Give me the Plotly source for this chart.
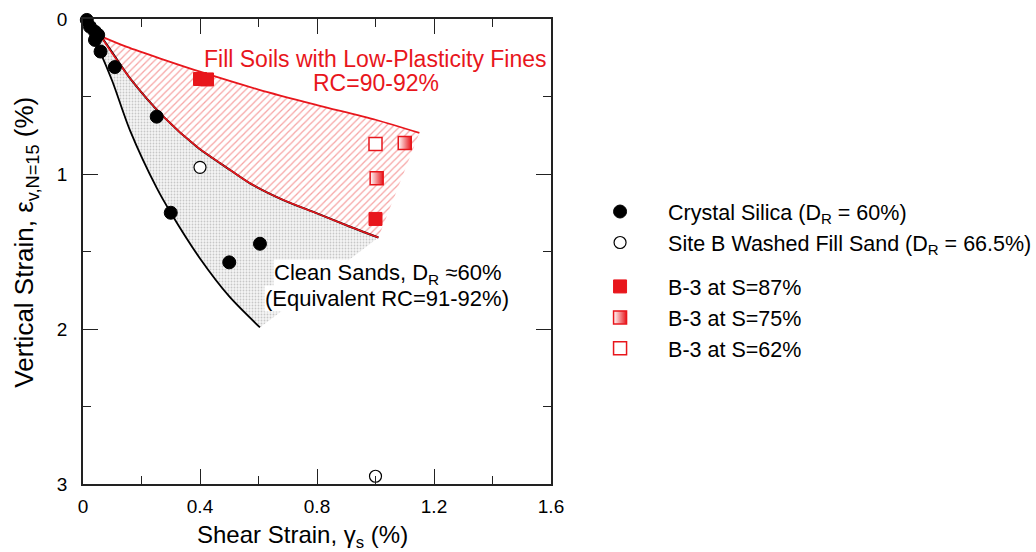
import plotly.graph_objects as go

# Boundary curves (shear strain %, vertical strain %)
sand_lower_x = [0.0, 0.03, 0.058, 0.10, 0.161, 0.252, 0.30, 0.40, 0.50, 0.605]
sand_lower_y = [0.0, 0.10, 0.21, 0.40, 0.72, 1.09, 1.25, 1.545, 1.79, 1.99]

middle_x = [0.0, 0.06, 0.161, 0.275, 0.389, 0.503, 0.571, 0.685, 0.80, 0.913, 1.01]
middle_y = [0.0, 0.11, 0.383, 0.63, 0.824, 0.974, 1.06, 1.168, 1.254, 1.34, 1.41]

fill_upper_x = [0.06, 0.15, 0.28, 0.40, 0.60, 0.80, 1.00, 1.15]
fill_upper_y = [0.11, 0.18, 0.265, 0.34, 0.455, 0.555, 0.65, 0.735]

# Test data
silica_x = [0.013, 0.024, 0.041, 0.052, 0.041, 0.06, 0.109, 0.252, 0.30, 0.605, 0.50]
silica_y = [0.006, 0.05, 0.082, 0.103, 0.135, 0.21, 0.31, 0.63, 1.25, 1.45, 1.57]

siteb_x = [0.40, 1.00]
siteb_y = [0.957, 2.95]

s87_x = [0.40, 0.424, 1.00]
s87_y = [0.387, 0.39, 1.29]

s75_x = [1.004, 1.10]
s75_y = [1.028, 0.80]

s62_x = [1.00]
s62_y = [0.806]

RED = "#e8161c"
FONT = "Liberation Sans, Arial, sans-serif"

fig = go.Figure()

# Clean sands band (stippled)
sand_poly_x = sand_lower_x + middle_x[::-1]
sand_poly_y = sand_lower_y + middle_y[::-1]
fig.add_trace(go.Scatter(
    x=sand_poly_x, y=sand_poly_y, mode="lines", fill="toself",
    line=dict(width=0), fillcolor="rgba(255,255,255,0)",
    fillpattern=dict(shape=".", fgcolor="#9a9a9a", bgcolor="#f5f5f5", size=3, solidity=0.3),
    showlegend=False, hoverinfo="skip"))

# Fill soils band (hatched)
red_poly_x = fill_upper_x + middle_x[::-1][:-1]
red_poly_y = fill_upper_y + middle_y[::-1][:-1]
fig.add_trace(go.Scatter(
    x=red_poly_x, y=red_poly_y, mode="lines", fill="toself",
    line=dict(width=0), fillcolor="rgba(255,255,255,0)",
    fillpattern=dict(shape="/", fgcolor="#ee4a4a", bgcolor="white", size=5, solidity=0.25),
    showlegend=False, hoverinfo="skip"))

# Clean sand boundaries
fig.add_trace(go.Scatter(x=sand_lower_x, y=sand_lower_y, mode="lines",
                         line=dict(color="black", width=1.8, shape="spline", smoothing=0.8),
                         showlegend=False, hoverinfo="skip"))
fig.add_trace(go.Scatter(x=middle_x, y=middle_y, mode="lines",
                         line=dict(color="black", width=2.0, shape="spline", smoothing=0.8),
                         showlegend=False, hoverinfo="skip"))
# Fill soil boundaries
fig.add_trace(go.Scatter(x=middle_x[1:], y=middle_y[1:], mode="lines",
                         line=dict(color=RED, width=1.6, shape="spline", smoothing=0.8),
                         showlegend=False, hoverinfo="skip"))
fig.add_trace(go.Scatter(x=fill_upper_x, y=fill_upper_y, mode="lines",
                         line=dict(color=RED, width=1.8, shape="spline", smoothing=0.8),
                         showlegend=False, hoverinfo="skip"))

# Data points: sands in one legend group, B-3 specimens in another
fig.add_trace(go.Scatter(
    x=silica_x, y=silica_y, mode="markers", cliponaxis=False,
    name="Crystal Silica (D<sub>R</sub> = 60%)", legendgroup="sands",
    marker=dict(symbol="circle", size=13, color="black", line=dict(color="black", width=1))))
fig.add_trace(go.Scatter(
    x=siteb_x, y=siteb_y, mode="markers", cliponaxis=False,
    name="Site B Washed Fill Sand (D<sub>R</sub> = 66.5%)", legendgroup="sands",
    marker=dict(symbol="circle", size=12, color="white", line=dict(color="black", width=1.2))))
fig.add_trace(go.Scatter(
    x=s87_x, y=s87_y, mode="markers", cliponaxis=False,
    name="B-3 at S=87%", legendgroup="b3",
    marker=dict(symbol="square", size=13, color=RED, line=dict(color=RED, width=1))))
fig.add_trace(go.Scatter(
    x=s75_x, y=s75_y, mode="markers", cliponaxis=False,
    name="B-3 at S=75%", legendgroup="b3",
    marker=dict(symbol="square", size=13, color="white",
                gradient=dict(type="horizontal", color=RED),
                line=dict(color=RED, width=1.5))))
fig.add_trace(go.Scatter(
    x=s62_x, y=s62_y, mode="markers", cliponaxis=False,
    name="B-3 at S=62%", legendgroup="b3",
    marker=dict(symbol="square", size=13, color="white", line=dict(color=RED, width=1.5))))

# Region labels
fig.add_annotation(x=1.0, y=0.258, text="Fill Soils with Low-Plasticity Fines", showarrow=False,
                   font=dict(family=FONT, size=23, color=RED))
fig.add_annotation(x=1.0, y=0.415, text="RC=90-92%", showarrow=False,
                   font=dict(family=FONT, size=23, color=RED))
fig.add_annotation(x=1.04, y=1.645, text="Clean Sands, D<sub>R</sub> ≈60%", showarrow=False,
                   bgcolor="white", borderpad=0,
                   font=dict(family=FONT, size=22, color="black"))
fig.add_annotation(x=1.038, y=1.80, text="(Equivalent RC=91-92%)", showarrow=False,
                   bgcolor="white", borderpad=0,
                   font=dict(family=FONT, size=22, color="black"))

# Axis titles
fig.add_annotation(xref="paper", yref="paper", x=0.468, y=-0.112, yanchor="middle",
                   text="Shear Strain, γ<sub>s</sub> (%)", showarrow=False,
                   font=dict(family=FONT, size=24, color="black"))
fig.add_annotation(xref="paper", yref="paper", x=-0.123, y=0.52, xanchor="center",
                   text="Vertical Strain, ε<sub>v,N=15</sub> (%)", showarrow=False, textangle=-90,
                   font=dict(family=FONT, size=26, color="black"))

axis_common = dict(
    showgrid=False, zeroline=False, showline=True, linecolor="#222", linewidth=1.5,
    mirror="ticks", ticks="inside", ticklen=15, tickwidth=1.3, tickcolor="#222",
    tickfont=dict(family=FONT, size=19, color="black"),
)
fig.update_xaxes(range=[0, 1.6], tick0=0, dtick=0.4, ticklabelstandoff=4,
                 minor=dict(dtick=0.2, ticks="inside", ticklen=8, tickwidth=1.3, tickcolor="#222"),
                 **axis_common)
fig.update_yaxes(range=[3, 0], tick0=0, dtick=1, ticklabelstandoff=10,
                 minor=dict(dtick=0.5, ticks="inside", ticklen=8, tickwidth=1.3, tickcolor="#222"),
                 **axis_common)

fig.update_layout(
    width=1036, height=552,
    margin=dict(l=83, r=485, t=19, b=68, autoexpand=False),
    paper_bgcolor="white", plot_bgcolor="white",
    font=dict(family=FONT, color="black"),
    legend=dict(x=1.045, y=0.63, xanchor="left", yanchor="top",
                font=dict(family=FONT, size=21.5, color="black"),
                itemwidth=86, tracegroupgap=13, bgcolor="rgba(0,0,0,0)"),
)

fig.write_html("out.html")
